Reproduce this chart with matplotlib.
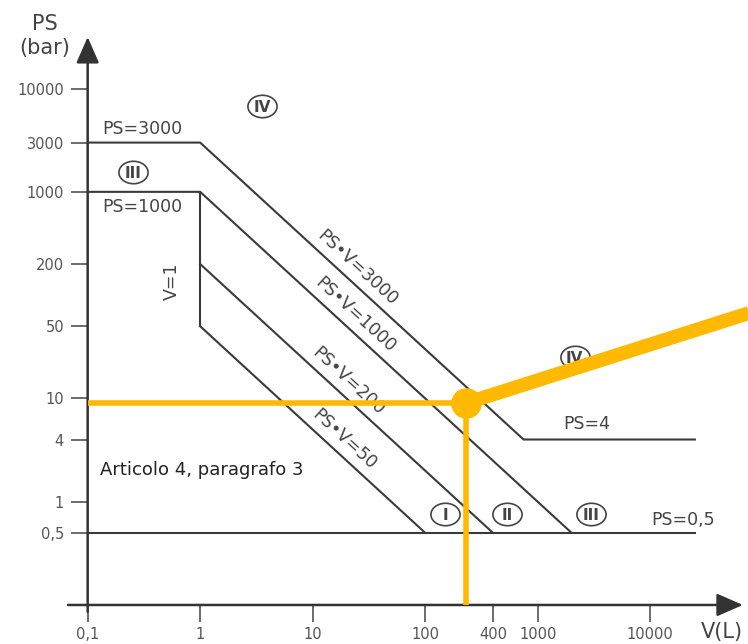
import math

import matplotlib
matplotlib.use('Agg')
import matplotlib.pyplot as plt
from matplotlib.markers import MarkerStyle
from matplotlib.path import Path
from matplotlib.transforms import Affine2D

# PED diagram data (V in litres, PS in bar)
V_START = 0.1
V_END = 25000
PS_TOP = 3000          # PS=3000 plateau
PS_MID = 1000          # PS=1000 plateau
PS_TAIL = 4            # PS=4 tail
PS_FLOOR = 0.5         # PS=0,5 floor
V_ONE = 1
V1_RANGE = [50, 1000]
PSV_VALUES = [3000, 1000, 200, 50]
PSV_LABEL_V = [20.5, 19.5, 17, 15.7]

X_TICKS = [0.1, 1, 10, 100, 400, 1000, 10000]
X_LABELS = ['0,1', '1', '10', '100', '400', '1000', '10000']
Y_TICKS = [0.5, 1, 4, 10, 50, 200, 1000, 3000, 10000]
Y_LABELS = ['0,5', '1', '4', '10', '50', '200', '1000', '3000', '10000']

# circled category numerals: (label, V, PS)
CATEGORIES = [('IV', 3.54, 6800), ('III', 0.253, 1560), ('IV', 2140, 25),
              ('I', 151, 0.76), ('II', 537, 0.76), ('III', 2960, 0.76)]

# highlighted working point and its callout
POINT_V, POINT_PS = 230, 9
POINTER_END = (150000, 85)

LINE = '#3a3a3a'
TEXT = '#444444'
ORANGE = '#FFB900'

fig = plt.figure(figsize=(7.48, 6.44), dpi=100)
ax = fig.add_axes([0.1172, 0.0606, 0.876, 0.882])
ax.set_xscale('log')
ax.set_yscale('log')
ax.set_xlim(0.1, 66800)
ax.set_ylim(0.1, 31600)
for s in ax.spines.values():
    s.set_visible(False)

# boundary lines
ax.plot([V_START, V_ONE, PSV_VALUES[0] / PS_TAIL, V_END],
        [PS_TOP, PS_TOP, PS_TAIL, PS_TAIL], color=LINE, lw=1.5)
ax.plot([V_START, V_ONE, PSV_VALUES[1] / PS_FLOOR],
        [PS_MID, PS_MID, PS_FLOOR], color=LINE, lw=1.5)
ax.plot([V_ONE, V_ONE], V1_RANGE, color=LINE, lw=1.5)
for psv in PSV_VALUES[2:]:
    ax.plot([V_ONE, psv / PS_FLOOR], [psv / V_ONE, PS_FLOOR], color=LINE, lw=1.5)
ax.plot([V_START, V_END], [PS_FLOOR, PS_FLOOR], color=LINE, lw=1.5)

# angle of the PS*V diagonals on screen
p1 = ax.transData.transform((1, 1000))
p2 = ax.transData.transform((1000, 1))
angle = math.degrees(math.atan2(p2[1] - p1[1], p2[0] - p1[0]))

for psv, v in zip(PSV_VALUES, PSV_LABEL_V):
    ax.annotate(f'PS\u2022V={psv}', xy=(v, psv / v), xytext=(7, 7.5),
                textcoords='offset points', rotation=angle,
                rotation_mode='anchor', ha='center', va='center',
                fontsize=12.5, color=TEXT)

ax.text(0.304, 4080, 'PS=3000', ha='center', va='center', fontsize=12.5, color=TEXT)
ax.text(0.304, 718, 'PS=1000', ha='center', va='center', fontsize=12.5, color=TEXT)
ax.text(0.56, 135, 'V=1', rotation=90, ha='center', va='center', fontsize=12.5, color=TEXT)
ax.text(2720, 5.69, 'PS=4', ha='center', va='center', fontsize=12.5, color=TEXT)
ax.text(19500, 0.67, 'PS=0,5', ha='center', va='center', fontsize=12.5, color=TEXT)
ax.text(0.129, 2.04, 'Articolo 4, paragrafo 3', ha='left', va='center',
        fontsize=13, color='#222222')

# circled numerals (slightly wide ellipse)
ellipse = Path.unit_circle().transformed(Affine2D().scale(1.3, 1.0))
for lab, v, ps in CATEGORIES:
    ax.plot(v, ps, marker=MarkerStyle(ellipse), markersize=21, mfc='white',
            mec=TEXT, mew=1.2, zorder=3)
    ax.annotate(lab, xy=(v, ps), xytext=(0, -1.2), textcoords='offset points',
                ha='center', va='center', fontsize=11, fontweight='bold',
                color=TEXT, zorder=4)

# orange highlight
ax.plot([V_START, POINT_V], [POINT_PS, POINT_PS], color=ORANGE, lw=4,
        solid_capstyle='butt', zorder=5)
ax.plot([POINT_V, POINT_V], [POINT_PS, 0.1], color=ORANGE, lw=4,
        solid_capstyle='butt', zorder=5)
ax.plot([POINT_V, POINTER_END[0]], [POINT_PS, POINTER_END[1]], color=ORANGE,
        lw=10, solid_capstyle='butt', zorder=5, clip_on=False)
ax.plot(POINT_V, POINT_PS, 'o', color=ORANGE, markersize=21, zorder=6)

# axes with arrow heads
arrow = dict(arrowstyle='-|>,head_length=0.8,head_width=0.35', color='#333333',
             lw=1.8, mutation_scale=20, shrinkA=0, shrinkB=0)
ax.annotate('', xy=(1.0, 0), xytext=(-0.03, 0), xycoords='axes fraction',
            arrowprops=arrow, annotation_clip=False)
ax.annotate('', xy=(0, 1.0), xytext=(0, -0.012), xycoords='axes fraction',
            arrowprops=arrow, annotation_clip=False)

ax.set_xticks(X_TICKS)
ax.set_xticklabels(X_LABELS)
ax.set_yticks(Y_TICKS)
ax.set_yticklabels(Y_LABELS)
ax.minorticks_off()
ax.tick_params(axis='both', length=12, width=1.1, color=TEXT,
               labelsize=10.5, labelcolor='#555555')
ax.tick_params(axis='x', pad=3.5)
ax.tick_params(axis='y', pad=5)

fig.text(45 / 748, 1 - 36 / 644, 'PS\n(bar)', ha='center', va='center',
         fontsize=15, color=TEXT, linespacing=1.25)
fig.text(722 / 748, 1 - 632 / 644, 'V(L)', ha='center', va='center',
         fontsize=15, color=TEXT)

fig.savefig('out.png', dpi=100)
